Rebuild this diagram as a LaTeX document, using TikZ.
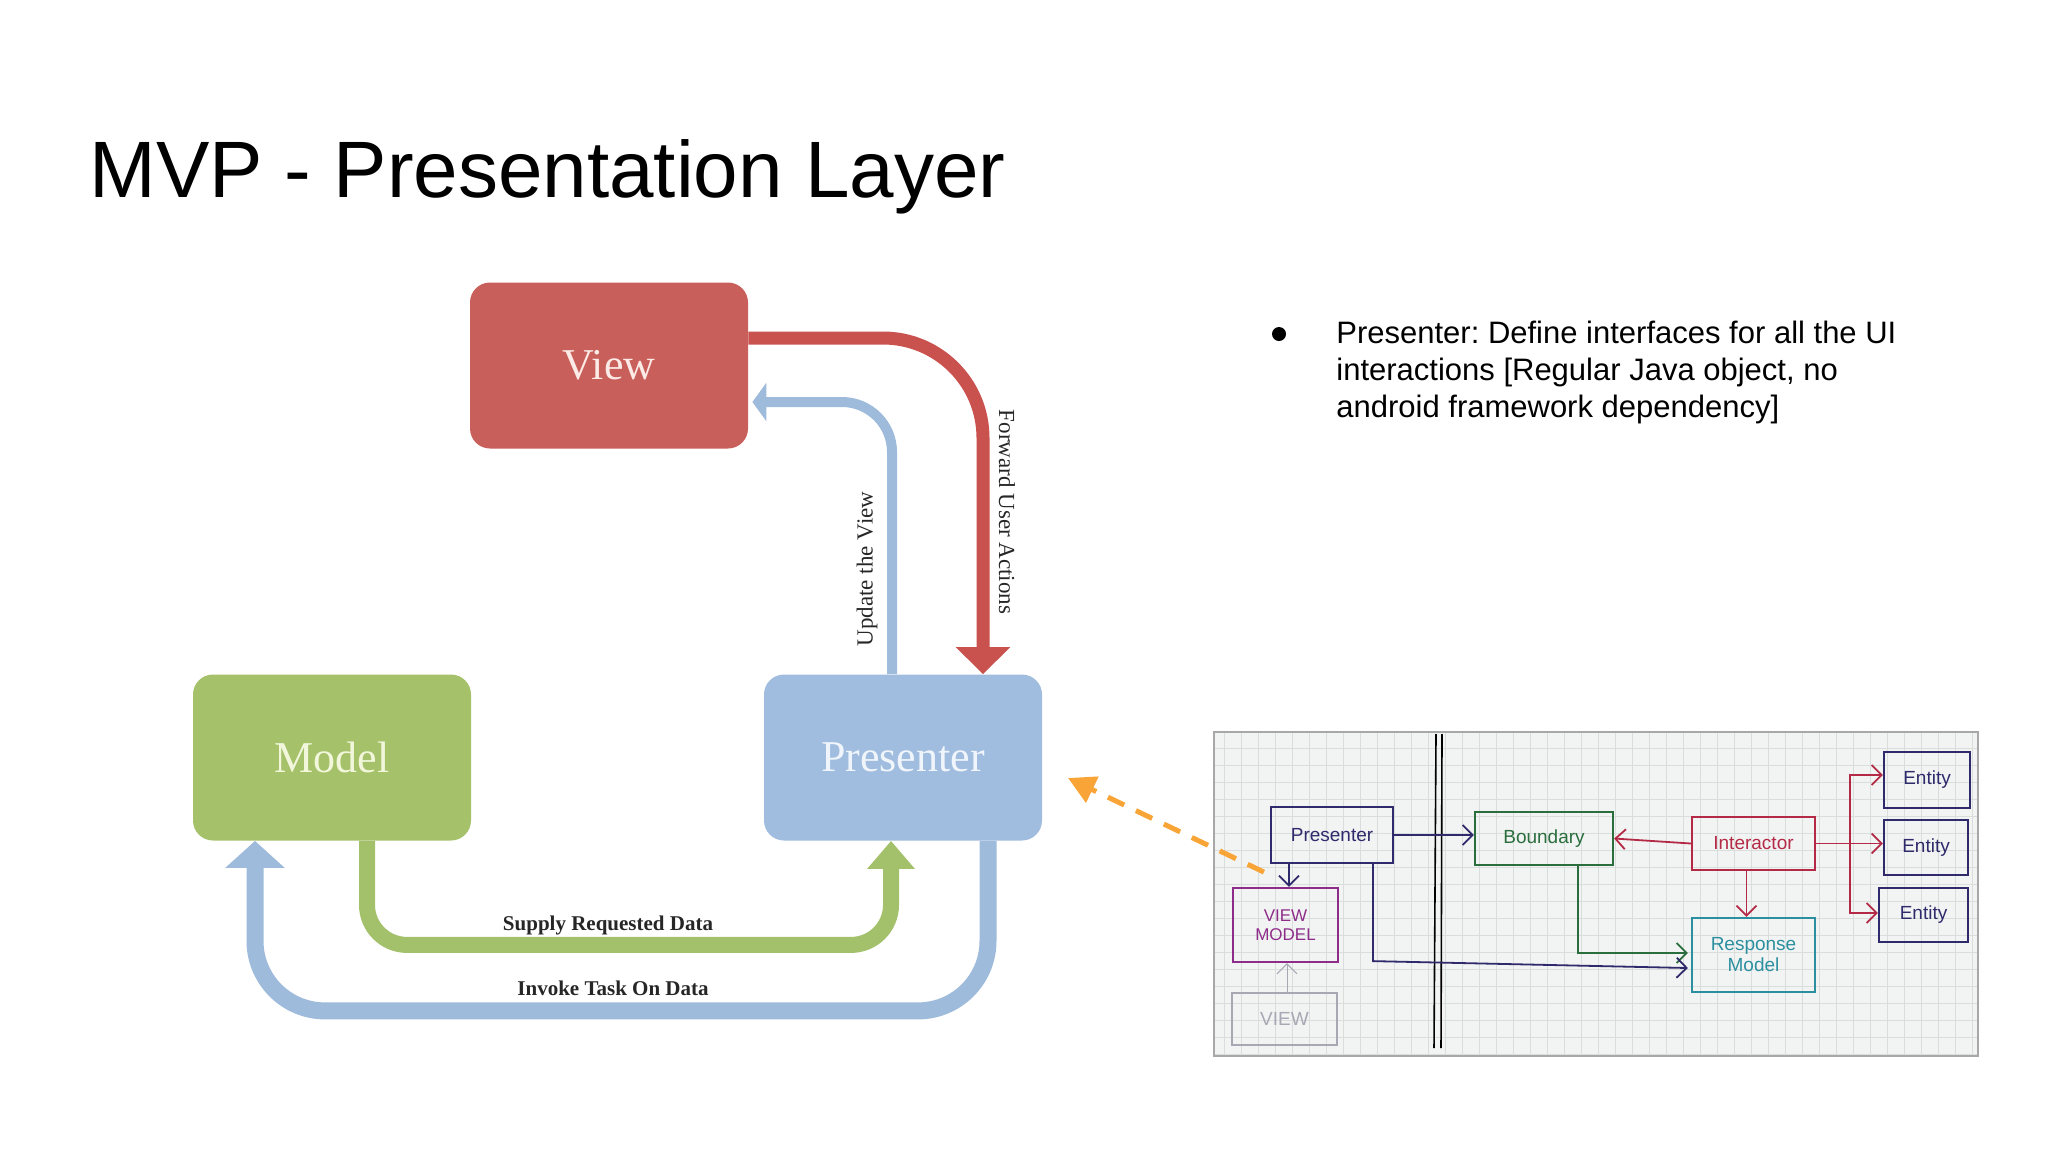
\documentclass[tikz,border=0pt]{standalone}
\usepackage{fontspec}
\setmainfont{Liberation Serif}
\newfontfamily\arialfont{Liberation Sans}
\usetikzlibrary{arrows.meta,calc}
\frenchspacing

\definecolor{viewred}{HTML}{C95F5A}
\definecolor{redarrow}{HTML}{C9524F}
\definecolor{modelgreen}{HTML}{A5C169}
\definecolor{greenarrow}{HTML}{A3C06A}
\definecolor{presblue}{HTML}{A0BCDE}
\definecolor{bluearrow}{HTML}{9FBBDC}
\definecolor{viewtext}{HTML}{FBEAE6}
\definecolor{modeltext}{HTML}{F2F7DC}
\definecolor{prestext}{HTML}{F0F5FB}
\definecolor{labelgray}{HTML}{262626}
\definecolor{orangeline}{HTML}{F9A436}
\definecolor{wbbg}{HTML}{F2F4F3}
\definecolor{wbgridc}{HTML}{D9DEDC}
\definecolor{wbborder}{HTML}{A8A8A8}
\definecolor{wbnavy}{HTML}{2E2A6B}
\definecolor{wbmagenta}{HTML}{8E2C8A}
\definecolor{wbgreen}{HTML}{2B6E3D}
\definecolor{wbred}{HTML}{B42A46}
\definecolor{wbteal}{HTML}{2C8FA0}
\definecolor{wbgray}{HTML}{A8A8B4}

\begin{document}
\begin{tikzpicture}[x=0.5pt,y=-0.5pt,
  mvpbox/.style={rounded corners=10pt, minimum width=139pt, minimum height=83pt,
    inner sep=0pt, font=\fontsize{22}{26}\selectfont},
  labelv/.style={font=\fontsize{11.5}{13}\selectfont, text=labelgray, inner sep=0pt},
  labelb/.style={font=\bfseries\fontsize{10.5}{12}\selectfont, text=labelgray, inner sep=0pt, anchor=base},
  flowred/.style={draw=redarrow, line width=6.5pt, rounded corners=50pt,
    -{Triangle[length=13.5pt,width=26.5pt]}},
  flowbluetop/.style={draw=bluearrow, line width=5pt, rounded corners=25pt,
    -{Triangle[length=7pt,width=19pt]}},
  flowgreen/.style={draw=greenarrow, line width=8pt, rounded corners=20pt,
    -{Triangle[length=14pt,width=23pt]}},
  flowbluebot/.style={draw=bluearrow, line width=8.5pt, rounded corners=35pt,
    -{Triangle[length=13.5pt,width=29pt]}},
  orangedash/.style={draw=orangeline, line width=2.5pt, dash pattern=on 9pt off 6.5pt,
    -{Triangle[length=13.5pt,width=14pt,fill=orangeline]}},
  bullettext/.style={anchor=base west, inner sep=0pt,
    font=\arialfont\fontsize{15.5}{18.5}\selectfont},
  wbbox/.style={draw, line width=1.1pt, inner sep=0pt, align=center,
    font=\arialfont\fontsize{9.5}{10.5}\selectfont},
  wbarrow/.style={line width=0.9pt, -{Straight Barb[length=5pt,width=10pt]}}
]
\useasboundingbox (0,0) rectangle (2048,1152);
\fill[white] (0,0) rectangle (2048,1152);

% title
\node[anchor=base west, inner sep=0pt, font=\arialfont\fontsize{40}{46}\selectfont] (title) at (89,197) {MVP - Presentation Layer};

% boxes
\node[mvpbox, fill=viewred, text=viewtext] (View) at (609,365.5) {View};
\node[mvpbox, fill=modelgreen, text=modeltext] (Model) at (332,757.5) {Model};
\node[mvpbox, fill=presblue, text=prestext] (Presenter) at (903,757.5) {Presenter};

% connectors
\draw[flowred] ($(View.east)+(0,-27.5)$) -| ($(Presenter.north)+(80,0)$);
\draw[flowbluetop] ($(Presenter.north)+(-11,0)$) |- ($(View.east)+(4,36.5)$);
\draw[flowgreen] ($(Model.south)+(35,0)$) |- ($(Presenter.south)+(-12,104)$) -- ($(Presenter.south)+(-12,0)$);
\draw[flowbluebot] ($(Presenter.south)+(85,0)$) |- ($(Model.south)+(-77,170)$) -- ($(Model.south)+(-77,0)$);

% labels
\node[labelv, rotate=-90] (lfwd) at (1007,512) {Forward User Actions};
\node[labelv, rotate=90] (lupd) at (867,569) {Update the View};
\node[labelb] (lsup) at (608,930) {Supply Requested Data};
\node[labelb] (linv) at (613,995) {Invoke Task On Data};

% bullet text
\node[circle, fill=black, inner sep=0pt, minimum size=7pt] (bul) at (1279,334) {};
\node[bullettext] (bl1) at (1336,343) {Presenter: Define interfaces for all the UI};
\node[bullettext] (bl2) at (1336,380) {interactions [Regular Java object, no};
\node[bullettext] (bl3) at (1336,417) {android framework dependency]};

% whiteboard photo
\fill[wbbg] (1214,732) rectangle (1978,1056);
\draw[wbgridc, line width=0.5pt, step=8.5pt] (1214,732) grid (1978,1056);
\draw[wbborder, line width=0.6pt] (1214,732) rectangle (1978,1056);
\draw[black, line width=0.8pt] (1436,734) -- (1434,1048);
\draw[black, line width=0.8pt] (1442,734) -- (1441,1048);

\node[wbbox, draw=wbnavy, text=wbnavy, minimum width=61pt, minimum height=28pt] (wbPres) at (1332,835) {Presenter};
\node[wbbox, draw=wbmagenta, text=wbmagenta, minimum width=52.5pt, minimum height=37pt, font=\arialfont\fontsize{8.5}{9.5}\selectfont] (wbVM) at (1285.5,925) {VIEW\\MODEL};
\node[wbbox, draw=wbgray, text=wbgray, line width=0.6pt, minimum width=52.5pt, minimum height=26pt] (wbView) at (1284.5,1019) {VIEW};
\node[wbbox, draw=wbgreen, text=wbgreen, minimum width=69pt, minimum height=26.5pt] (wbBound) at (1544,838.5) {Boundary};
\node[wbbox, draw=wbred, text=wbred, minimum width=61.5pt, minimum height=26.5pt] (wbInter) at (1753.5,843.5) {Interactor};
\node[wbbox, draw=wbteal, text=wbteal, minimum width=61.5pt, minimum height=37pt] (wbResp) at (1753.5,955) {Response\\Model};
\node[wbbox, draw=wbnavy, text=wbnavy, minimum width=43pt, minimum height=28pt] (wbE1) at (1927,780) {Entity};
\node[wbbox, draw=wbnavy, text=wbnavy, minimum width=42pt, minimum height=27.5pt] (wbE2) at (1926,847.5) {Entity};
\node[wbbox, draw=wbnavy, text=wbnavy, minimum width=44.5pt, minimum height=27pt] (wbE3) at (1923.5,915) {Entity};

\draw[wbarrow, wbnavy] ($(wbPres.south)+(-43,0)$) -- ($(wbVM.north)+(3.5,0)$);
\draw[wbarrow, wbgray, line width=0.5pt] ($(wbView.north)+(2.5,0)$) -- ($(wbVM.south)+(1.5,0)$);
\draw[wbarrow, wbnavy] (wbPres.east) -- (wbPres.east -| wbBound.west);
\draw[wbarrow, wbred] (wbInter.west) -- (wbBound.east);
\draw[wbarrow, wbred] ($(wbInter.south)+(-7,0)$) -- ($(wbResp.north)+(-7,0)$);
\draw[wbarrow, wbred] (wbInter.east) -- (wbInter.east -| wbE2.west);
\coordinate (br) at ($(wbInter.east)+(34,0)$);
\draw[wbarrow, wbred] (br) |- ($(wbE1.west)+(0,-5)$);
\draw[wbarrow, wbred] (br) |- ($(wbE3.west)+(0,-2)$);
\draw[wbarrow, wbgreen] ($(wbBound.south)+(34,0)$) |- ($(wbResp.west)+(-3,-2)$);
\draw[wbarrow, wbnavy] ($(wbPres.south)+(41,0)$) -- ($(wbPres.south)+(41,97)$) -- ($(wbResp.west)+(-3,13)$);

% orange pointer
\coordinate (optip) at (1068,778);
\draw[orangedash] ($(wbPres.south west)+(-6,8)$) -- (optip);
\end{tikzpicture}
\end{document}
